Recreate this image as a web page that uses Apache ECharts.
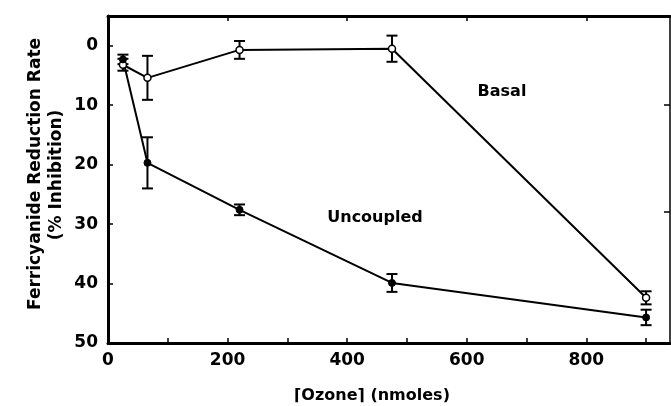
<!DOCTYPE html>
<html>
<head>
<meta charset="utf-8">
<script src="https://cdn.jsdelivr.net/npm/echarts@6/dist/echarts.min.js"></script>
<style>
  html, body { margin: 0; padding: 0; background: #fff; }
  #chart { width: 671px; height: 406px; }
</style>
</head>
<body>
<div id="chart"></div>
<script>
// ozone dose (nmoles)
const ozone = [25, 66, 220, 475, 900];
// % inhibition, basal (open circles)
const basal = [3.2, 5.4, 0.7, 0.5, 42.4];
const basalErr = [1.0, 3.7, 1.5, 2.2, 1.1];
// % inhibition, uncoupled (filled circles)
const uncoupled = [2.3, 19.7, 27.6, 39.9, 45.7];
const uncoupledErr = [0.8, 4.3, 0.9, 1.5, 1.3];

const xTicks = [100, 200, 300, 400, 500, 600, 700, 800, 900];
const xLabels = [0, 200, 400, 600, 800];
const yLabels = [0, 10, 20, 30, 40, 50];
const topTicks = [200, 400, 600, 800];
const rightTicks = [10, 28];

const font = 'DejaVu Sans';
const labelStyle = { fontFamily: font, fontWeight: 'bold', fontSize: 17, color: '#000' };

// error bar renderer: vertical line + caps
const errorBar = (params, api) => {
  const x = api.value(0);
  const top = api.coord([x, api.value(1)]);
  const bot = api.coord([x, api.value(2)]);
  const w = 5.5;
  const style = { stroke: '#000', lineWidth: 2 };
  return {
    type: 'group',
    children: [
      { type: 'line', shape: { x1: top[0], y1: top[1], x2: bot[0], y2: bot[1] }, style },
      { type: 'line', shape: { x1: top[0] - w, y1: top[1], x2: top[0] + w, y2: top[1] }, style },
      { type: 'line', shape: { x1: bot[0] - w, y1: bot[1], x2: bot[0] + w, y2: bot[1] }, style }
    ]
  };
};

const chart = echarts.init(document.getElementById('chart'));
chart.setOption({
  animation: false,
  backgroundColor: '#fff',
  grid: { left: 108, right: 1, top: 16, bottom: 63 },
  xAxis: [
    {
      type: 'value',
      position: 'bottom',
      min: 0,
      max: 940,
      axisLine: { show: true, onZero: false, lineStyle: { color: '#000', width: 3 } },
      axisTick: { show: true, inside: true, length: 5, customValues: xTicks, lineStyle: { color: '#000', width: 1.5 } },
      axisLabel: { ...labelStyle, margin: 9, customValues: xLabels },
      splitLine: { show: false }
    },
    {
      type: 'value',
      position: 'top',
      min: 0,
      max: 940,
      axisLine: { show: true, onZero: false, lineStyle: { color: '#000', width: 3 } },
      axisTick: { show: true, inside: true, length: 5, customValues: topTicks, lineStyle: { color: '#000', width: 1.5 } },
      axisLabel: { show: false },
      splitLine: { show: false }
    }
  ],
  yAxis: [
    {
      type: 'value',
      position: 'left',
      inverse: true,
      min: -5,
      max: 50,
      axisLine: { show: true, onZero: false, lineStyle: { color: '#000', width: 3 } },
      axisTick: { show: true, inside: true, length: 5, customValues: yLabels.slice(0, 5), lineStyle: { color: '#000', width: 1.5 } },
      axisLabel: { ...labelStyle, margin: 10, customValues: yLabels },
      splitLine: { show: false }
    },
    {
      type: 'value',
      position: 'right',
      inverse: true,
      min: -5,
      max: 50,
      axisLine: { show: true, onZero: false, lineStyle: { color: '#000', width: 1.5 } },
      axisTick: { show: true, inside: true, length: 6, customValues: rightTicks, lineStyle: { color: '#000', width: 1.5 } },
      axisLabel: { show: false },
      splitLine: { show: false }
    }
  ],
  graphic: [
    {
      type: 'text', x: 36, y: 174, rotation: Math.PI / 2,
      style: { text: 'Ferricyanide Reduction Rate', font: `bold 17px "${font}"`, fill: '#000', align: 'center', verticalAlign: 'middle' }
    },
    {
      type: 'text', x: 57, y: 175, rotation: Math.PI / 2,
      style: { text: '(% Inhibition)', font: `bold 17px "${font}"`, fill: '#000', align: 'center', verticalAlign: 'middle' }
    },
    {
      type: 'text', x: 372, y: 396,
      style: { text: '⌈Ozone⌉ (nmoles)', font: `bold 16px "${font}"`, fill: '#000', align: 'center', verticalAlign: 'middle' }
    },
    {
      type: 'text', x: 502, y: 92,
      style: { text: 'Basal', font: `bold 16px "${font}"`, fill: '#000', align: 'center', verticalAlign: 'middle' }
    },
    {
      type: 'text', x: 375, y: 218,
      style: { text: 'Uncoupled', font: `bold 16px "${font}"`, fill: '#000', align: 'center', verticalAlign: 'middle' }
    }
  ],
  series: [
    {
      name: 'Basal err',
      type: 'custom',
      renderItem: errorBar,
      encode: { x: 0, y: [1, 2] },
      z: 1,
      data: ozone.map((x, i) => [x, basal[i] - basalErr[i], basal[i] + basalErr[i]])
    },
    {
      name: 'Uncoupled err',
      type: 'custom',
      renderItem: errorBar,
      encode: { x: 0, y: [1, 2] },
      z: 1,
      data: ozone.map((x, i) => [x, uncoupled[i] - uncoupledErr[i], uncoupled[i] + uncoupledErr[i]])
    },
    {
      name: 'Basal',
      type: 'line',
      z: 3,
      symbol: 'circle',
      symbolSize: 7,
      lineStyle: { color: '#000', width: 2 },
      itemStyle: { color: '#fff', borderColor: '#000', borderWidth: 1.5 },
      data: ozone.map((x, i) => [x, basal[i]])
    },
    {
      name: 'Uncoupled',
      type: 'line',
      z: 3,
      symbol: 'circle',
      symbolSize: 7,
      lineStyle: { color: '#000', width: 2 },
      itemStyle: { color: '#000', borderColor: '#000', borderWidth: 1 },
      data: ozone.map((x, i) => [x, uncoupled[i]])
    }
  ]
});
</script>
</body>
</html>
